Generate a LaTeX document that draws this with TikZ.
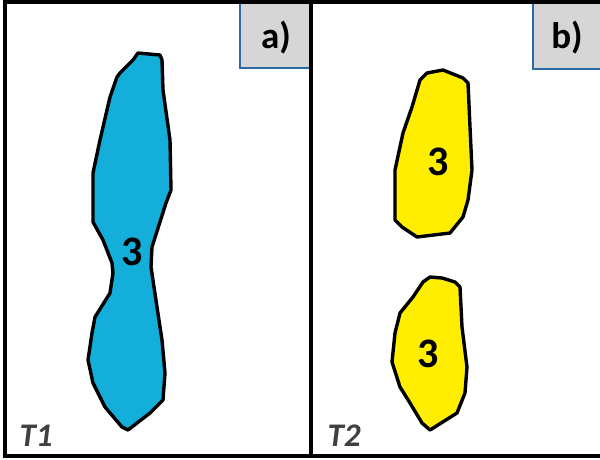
\documentclass[tikz,border=0pt]{standalone}
\usepackage{fontspec}
\setmainfont{Carlito}
\definecolor{shapeblue}{HTML}{14AEDB}
\definecolor{shapeyellow}{HTML}{FFEE00}
\definecolor{boxgray}{HTML}{D6D6D6}
\definecolor{boxedge}{HTML}{2A6AA6}
\definecolor{tgray}{HTML}{404040}
\begin{document}
\begin{tikzpicture}[x=1pt,y=-1pt,
  frame/.style={line width=4pt,black},
  blob/.style={line width=3.4pt,line join=round,draw=black},
  tagbox/.style={fill=boxgray,draw=boxedge,line width=1.5pt},
  tag/.style={font=\bfseries\fontsize{37}{37}\selectfont,text=black},
  num/.style={font=\bfseries\fontsize{42}{42}\selectfont,text=black},
  time/.style={font=\bfseries\itshape\fontsize{33}{33}\selectfont,text=tgray,anchor=base west}]
\useasboundingbox (0,0) rectangle (600,459);
% label boxes
\draw[tagbox] (312,-2) -- (240,-2) -- (240,68) -- (312,68);
\draw[tagbox] (602,-2) -- (533,-2) -- (533,69) -- (602,69);
\node[tag] (la) at (276,38) {a)};
\node[tag] (lb) at (567,38) {b)};
% frame
\draw[frame] (602,2) -- (5,2) -- (5,456) -- (602,456);
\draw[frame] (311,2) -- (311,456);
% blue shape
\draw[blob,fill=shapeblue] (138,53) -- (160,55) -- (162,60) -- (163,90) -- (170,140) -- (171,190)
  -- (166,203) -- (152,247) -- (151,267) -- (157,307) -- (162,340) -- (165,373) -- (163,400)
  -- (150,413) -- (128,430) -- (122,427) -- (105,407) -- (93,383) -- (88,360) -- (92,333)
  -- (95,317) -- (110,293) -- (113,273) -- (112,263) -- (103,240) -- (93,222) -- (93,173)
  -- (100,140) -- (110,97) -- (117,77) -- (120,73) -- (133,60) -- cycle;
% yellow upper
\draw[blob,fill=shapeyellow] (427,73) -- (443,70) -- (463,78) -- (468,83) -- (470,127) -- (472,170)
  -- (468,200) -- (463,217) -- (450,233) -- (417,237) -- (402,227) -- (395,220) -- (395,170)
  -- (403,133) -- (412,107) -- (420,80) -- cycle;
% yellow lower
\draw[blob,fill=shapeyellow] (430,277) -- (442,278) -- (455,282) -- (460,287) -- (462,327) -- (467,367)
  -- (465,393) -- (457,413) -- (430,430) -- (422,423) -- (410,403) -- (400,387) -- (392,362)
  -- (395,333) -- (400,313) -- (413,297) -- (423,282) -- cycle;
% numbers
\node[num] (n1) at (132,252) {3};
\node[num] (n2) at (438,162) {3};
\node[num] (n3) at (428,354) {3};
% time labels
\node[time] (t1) at (16,446) {T1};
\node[time] (t2) at (324,446) {T2};
\end{tikzpicture}
\end{document}
